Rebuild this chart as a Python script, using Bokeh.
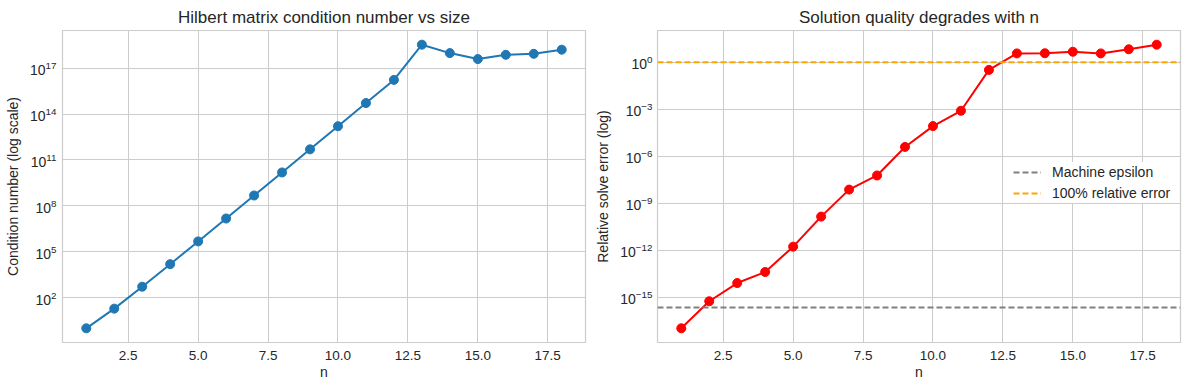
import numpy as np
from bokeh.plotting import figure
from bokeh.layouts import row
from bokeh.models import (FixedTicker, Range1d, Legend, LegendItem, ColumnDataSource,
                          NumeralTickFormatter)
from bokeh.embed import file_html
from bokeh.resources import INLINE

n = [1, 2, 3, 4, 5, 6, 7, 8, 9, 10, 11, 12, 13, 14, 15, 16, 17, 18]
cond = [1.0, 19.28, 524.06, 1.5514e4, 4.766e5, 1.495e7, 4.754e8, 1.526e10, 4.932e11,
        1.603e13, 5.22e14, 1.7e16, 3.4e18, 9.6e17, 3.9e17, 7.4e17, 8.6e17, 1.6e18]
err = [1.05e-17, 5.6e-16, 8.1e-15, 4.1e-14, 1.7e-12, 1.4e-10, 7.4e-9, 5.9e-8, 3.9e-6,
       8.3e-5, 7.9e-4, 0.32, 3.6, 3.7, 4.6, 3.6, 6.6, 13.0]
eps = 2.220446049250313e-16
full_err = 1.0

left_ticks = [1e2, 1e5, 1e8, 1e11, 1e14, 1e17]
right_ticks = [1e-15, 1e-12, 1e-9, 1e-6, 1e-3, 1e0]
x_ticks = [2.5, 5.0, 7.5, 10.0, 12.5, 15.0, 17.5]

FONT = "Liberation Sans"
TXT = "#262626"
GRID = "#cccccc"


def xr():
    lo, hi = min(n), max(n)
    m = 0.05 * (hi - lo)
    return lo - m, hi + m


def logr(vals):
    lv = np.log10(np.array(vals, dtype=float))
    lo, hi = lv.min(), lv.max()
    m = 0.05 * (hi - lo)
    return 10 ** (lo - m), 10 ** (hi + m)


def style(p, ticks, xlabel, ylabel, ystandoff):
    p.yaxis.ticker = FixedTicker(ticks=ticks)
    p.xaxis.ticker = FixedTicker(ticks=x_ticks)
    p.xaxis.formatter = NumeralTickFormatter(format="0.0")
    for ax in (p.xaxis[0], p.yaxis[0]):
        ax.major_tick_line_color = None
        ax.minor_tick_line_color = None
        ax.major_tick_out = 0
        ax.major_tick_in = 0
        ax.minor_tick_out = 0
        ax.axis_line_color = None
        ax.major_label_text_font = FONT
        ax.major_label_text_color = TXT
        ax.axis_label_text_font = FONT
        ax.axis_label_text_font_size = "14px"
        ax.axis_label_text_font_style = "normal"
        ax.axis_label_text_color = TXT
    p.xaxis.major_label_text_font_size = "13.5px"
    p.yaxis.major_label_text_font_size = "14px"
    p.xaxis.major_label_standoff = 8
    p.xaxis.axis_label_standoff = 1
    p.yaxis.major_label_standoff = ystandoff
    p.yaxis.axis_label_standoff = 6
    p.xaxis.axis_label = xlabel
    p.yaxis.axis_label = ylabel
    p.grid.grid_line_color = GRID
    p.grid.grid_line_width = 1
    p.outline_line_color = GRID
    p.outline_line_width = 1.2
    p.title.text_font = FONT
    p.title.text_font_size = "17px"
    p.title.text_font_style = "normal"
    p.title.text_color = TXT
    p.title.align = "center"
    p.title.standoff = 7
    p.background_fill_color = "white"
    p.border_fill_color = "white"


x0, x1 = xr()
y0, y1 = logr(cond)
p1 = figure(output_backend="svg", toolbar_location=None, y_axis_type="log",
            frame_width=523, frame_height=312,
            min_border_left=62, min_border_top=30, min_border_bottom=40, min_border_right=4,
            x_range=Range1d(x0, x1), y_range=Range1d(y0, y1),
            title="Hilbert matrix condition number vs size")
style(p1, left_ticks, "n", "Condition number (log scale)", 6)
s1 = ColumnDataSource(dict(n=n, v=cond))
p1.line("n", "v", source=s1, line_color="#1f77b4", line_width=2)
p1.scatter("n", "v", source=s1, size=9, fill_color="#1f77b4", line_color="#1f77b4")

ey0, ey1 = logr(err + [eps, full_err])
p2 = figure(output_backend="svg", toolbar_location=None, y_axis_type="log",
            frame_width=523, frame_height=312,
            min_border_left=68, min_border_top=30, min_border_bottom=40, min_border_right=2,
            x_range=Range1d(x0, x1), y_range=Range1d(ey0, ey1),
            title="Solution quality degrades with n")
style(p2, right_ticks, "n", "Relative solve error (log)", 5)
s2 = ColumnDataSource(dict(n=n, v=err))
p2.line("n", "v", source=s2, line_color="red", line_width=2)
p2.scatter("n", "v", source=s2, size=9, fill_color="red", line_color="red")
r_eps = p2.line([x0, x1], [eps, eps], line_color="gray", line_width=2, line_dash="6 3")
r_full = p2.line([x0, x1], [full_err, full_err], line_color="orange", line_width=2, line_dash="6 3")

leg = Legend(items=[LegendItem(label="Machine epsilon", renderers=[r_eps]),
                    LegendItem(label="100% relative error", renderers=[r_full])],
             location=(354, 139))
leg.label_text_font = FONT
leg.label_text_font_size = "14px"
leg.label_text_color = TXT
leg.glyph_width = 28
leg.glyph_height = 14
leg.label_height = 14
leg.label_standoff = 11
leg.spacing = 5
leg.padding = 2
leg.margin = 0
leg.border_line_alpha = 0
leg.background_fill_color = "white"
leg.background_fill_alpha = 1
p2.add_layout(leg)

layout = row(p1, p2)
open("out.html", "w").write(file_html(layout, INLINE))
